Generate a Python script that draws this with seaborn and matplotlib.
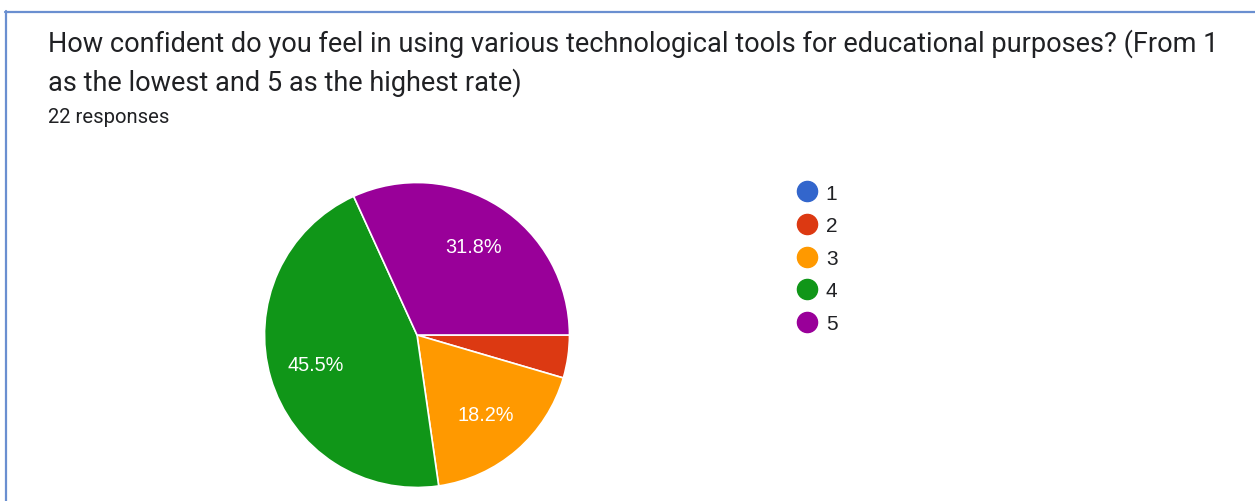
import matplotlib
matplotlib.use("Agg")
import matplotlib.pyplot as plt
from matplotlib.lines import Line2D
import seaborn as sns

# ---- data ----
categories = ["1", "2", "3", "4", "5"]
counts = [0, 1, 4, 10, 7]
colors = ["#3366cc", "#dc3912", "#ff9900", "#109618", "#990099"]
title_lines = ["How confident do you feel in using various technological tools for educational purposes? (From 1",
               "as the lowest and 5 as the highest rate)"]
subtitle = "22 responses"

sns.set_theme(style="white")
plt.rcParams['font.family'] = ['Roboto', 'DejaVu Sans']

W, H = 1255, 502
fig = plt.figure(figsize=(W / 100, H / 100), dpi=100)
fig.patch.set_facecolor("white")

# border lines (top and left)
fig.add_artist(Line2D([5 / W, 1], [1 - 12.5 / H, 1 - 12.5 / H], color="#6a8fd0", lw=1.6,
                      transform=fig.transFigure))
fig.add_artist(Line2D([5.5 / W, 5.5 / W], [0, 1 - 12 / H], color="#6a8fd0", lw=1.6,
                      transform=fig.transFigure))

# titles
fig.text(48 / W, 1 - 52 / H, title_lines[0], fontsize=19.5, color="#202124", va="baseline", ha="left")
fig.text(48 / W, 1 - 91 / H, title_lines[1], fontsize=19.5, color="#202124", va="baseline", ha="left")
fig.text(48 / W, 1 - 123 / H, subtitle, fontsize=14.6, color="#202124", va="baseline", ha="left")

# pie
cx, cy, r = 417, 336, 154
ax = fig.add_axes([(cx - r) / W, (H - cy - r) / H, 2 * r / W, 2 * r / H])


def fmt(p):
    return f"{p:.1f}%" if p >= 6 else ""


wedges, texts, autotexts = ax.pie(counts, colors=colors, startangle=0, counterclock=False,
                                  autopct=fmt, pctdistance=0.69,
                                  wedgeprops=dict(edgecolor="white", linewidth=1.2),
                                  textprops=dict(color="white", fontsize=14.3,
                                                 family=["Liberation Sans", "DejaVu Sans"]))
ax.set_xlim(-1.01, 1.01)
ax.set_ylim(-1.01, 1.01)
ax.set_aspect("equal")
ax.axis("off")

# legend
handles = [Line2D([0], [0], marker="o", linestyle="", markersize=14.5,
                  markerfacecolor=c, markeredgecolor=c) for c in colors]
leg = fig.legend(handles, categories, loc="upper left", bbox_to_anchor=(796.6 / W, 1 - 184.5 / H),
                 frameon=False, prop=dict(family=["Liberation Sans", "DejaVu Sans"], size=15),
                 handletextpad=0.4, labelspacing=0.655,
                 handlelength=1.0, borderpad=0, borderaxespad=0)
for t in leg.get_texts():
    t.set_color("#202124")

fig.savefig("out.png", dpi=100, facecolor="white")
